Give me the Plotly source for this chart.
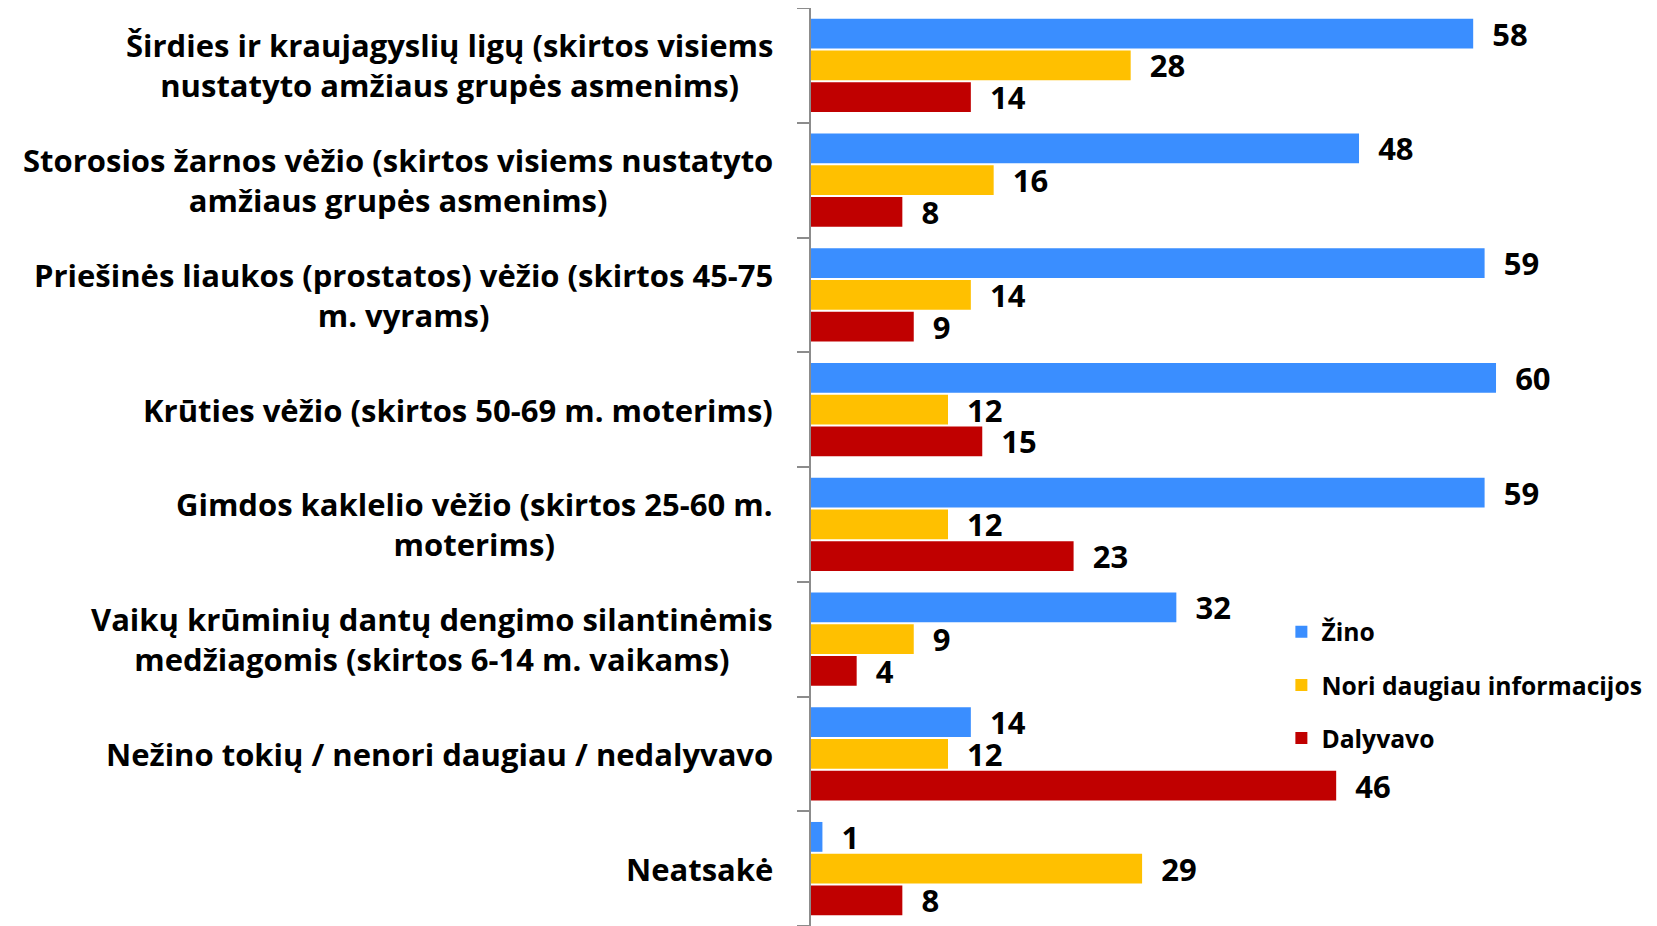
import plotly.graph_objects as go

categories = [
    "Širdies ir kraujagyslių ligų (skirtos visiems<br>nustatyto amžiaus grupės asmenims)",
    "Storosios žarnos vėžio (skirtos visiems nustatyto<br>amžiaus grupės asmenims)",
    "Priešinės liaukos (prostatos) vėžio (skirtos 45-75<br>m. vyrams)",
    "Krūties vėžio (skirtos 50-69 m. moterims)",
    "Gimdos kaklelio vėžio (skirtos 25-60 m.<br>moterims)",
    "Vaikų krūminių dantų dengimo silantinėmis<br>medžiagomis (skirtos 6-14 m. vaikams)",
    "Nežino tokių / nenori daugiau / nedalyvavo",
    "Neatsakė",
]
zino = [58, 48, 59, 60, 59, 32, 14, 1]
nori = [28, 16, 14, 12, 12, 9, 12, 29]
dalyvavo = [14, 8, 9, 15, 23, 4, 46, 8]
series_names = ["Žino", "Nori daugiau informacijos", "Dalyvavo"]
colors = ["#3A8EFF", "#FFC000", "#C00000"]

FONT = "Open Sans"
n = len(categories)
ypos = list(range(n))
boundaries = [i - 0.5 for i in range(n + 1)]

fig = go.Figure()
for name, vals, col in zip(series_names, [zino, nori, dalyvavo], colors):
    fig.add_trace(go.Bar(
        y=ypos, x=vals, name=name, orientation="h",
        marker=dict(color=col, line=dict(width=0)),
        text=vals, texttemplate="\u00a0\u00a0%{x}", textposition="outside",
        constraintext="none",
        textfont=dict(family=FONT, size=31, color="black", weight="bold"),
        cliponaxis=False, legendgroup=name,
    ))

for i, c in enumerate(categories):
    fig.add_annotation(x=0, xref="paper", y=i, yref="y", text=c, showarrow=False,
                       xanchor="right", xshift=-36, align="center",
                       font=dict(family=FONT, size=31, color="black", weight="bold"))

fig.update_layout(
    width=1649, height=918,
    margin=dict(l=803, r=0, t=0, b=0, autoexpand=False),
    paper_bgcolor="white", plot_bgcolor="white",
    barmode="group", bargap=0.17, bargroupgap=0.06,
    showlegend=True,
    legend=dict(x=0.556, y=0.345, xanchor="left", yanchor="top",
                font=dict(family=FONT, size=24.7, color="black", weight="bold"),
                tracegroupgap=18, traceorder="grouped", bgcolor="rgba(0,0,0,0)"),
)
fig.update_xaxes(range=[0, 74.1], visible=False, automargin=False)
fig.update_yaxes(range=[n - 0.5, -0.5], tickmode="array", tickvals=boundaries,
                 ticktext=[""] * len(boundaries), showticklabels=False,
                 ticks="outside", ticklen=12, tickcolor="#8C8C8C", tickwidth=2,
                 showline=True, linecolor="#8C8C8C", linewidth=2,
                 showgrid=False, zeroline=False, automargin=False)

fig.write_html("out.html")
